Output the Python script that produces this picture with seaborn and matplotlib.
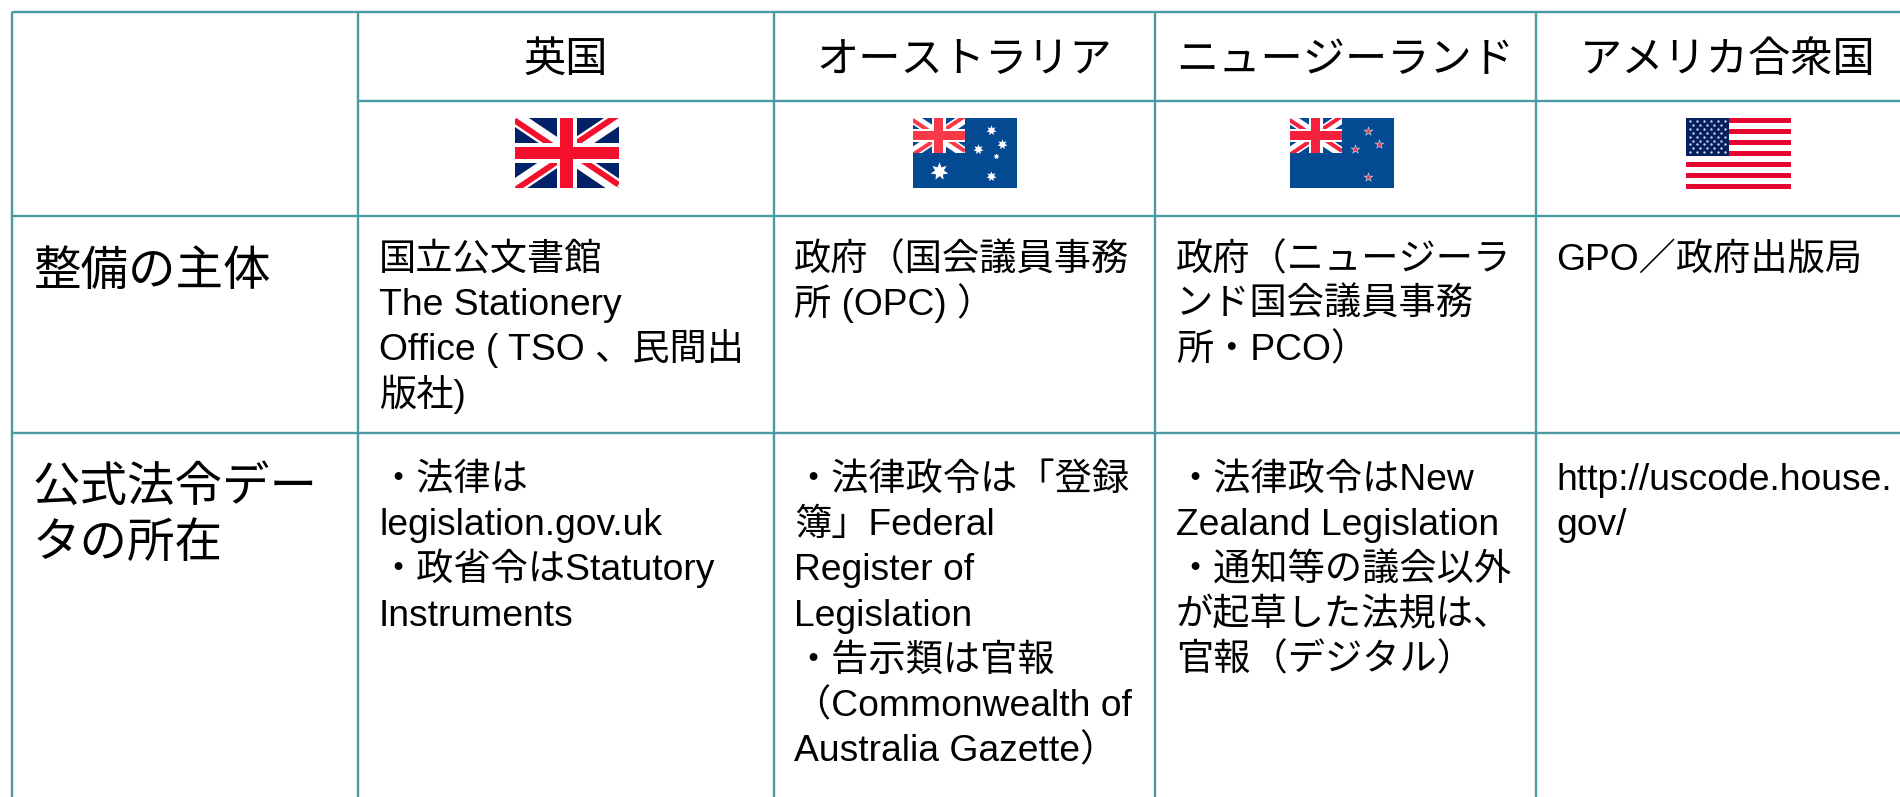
import matplotlib
matplotlib.use("Agg")
import matplotlib.pyplot as plt
from matplotlib.patches import Rectangle
import seaborn as sns

sns.set_theme(style="white")
FONT = ["Liberation Sans", "Noto Sans CJK JP", "DejaVu Sans"]
plt.rcParams["font.family"] = FONT

# ---- content ----
columns = ["英国", "オーストラリア", "ニュージーランド", "アメリカ合衆国"]
row_labels = [["整備の主体"], ["公式法令デー", "タの所在"]]
row1_cells = [
    ["国立公文書館", "The Stationery", "Office ( TSO 、民間出", "版社)"],
    ["政府（国会議員事務", "所 (OPC) ）"],
    ["政府（ニュージーラ", "ンド国会議員事務", "所・PCO）"],
    ["GPO／政府出版局"],
]
row2_cells = [
    ["・法律は", "legislation.gov.uk", "・政省令はStatutory", "Instruments"],
    ["・法律政令は「登録", "簿」Federal", "Register of", "Legislation", "・告示類は官報",
     "（Commonwealth of", "Australia Gazette）"],
    ["・法律政令はNew", "Zealand Legislation", "・通知等の議会以外", "が起草した法規は、", "官報（デジタル）"],
    ["http://uscode.house.", "gov/"],
]

# ---- layout (pixels of the 1900x797 canvas) ----
W, H = 1900, 797
col_edges = [11.5, 358, 774, 1155, 1536]
row_edges = [11.5, 101, 215.5, 432.5]
col_text_x = [379, 794, 1176, 1556]
col_centers = [566, 964.5, 1345.5, 1728]
LINE = "#4a9aa3"
LH = 45.2
BODY, HEAD, LABEL = 26.8, 30.4, 34.2

fig = plt.figure(figsize=(W / 100, H / 100), dpi=100, facecolor="white")
ax = fig.add_axes([0, 0, 1, 1])
ax.set_xlim(0, W)
ax.set_ylim(H, 0)
ax.axis("off")
sns.despine(ax=ax, left=True, bottom=True)

# grid
ax.hlines([row_edges[0], row_edges[2], row_edges[3]], col_edges[0], W, color=LINE, lw=1.7)
ax.hlines(row_edges[1], col_edges[1], W, color=LINE, lw=1.7)
ax.vlines(col_edges, row_edges[0], H, color=LINE, lw=1.7)

# text
for cx, name in zip(col_centers, columns):
    ax.text(cx, 72, name, ha="center", va="baseline", fontsize=HEAD, color="black", family=FONT)
for lines, y0 in zip(row_labels, [285, 501]):
    for i, s in enumerate(lines):
        ax.text(33, y0 + i * 56, s, fontsize=LABEL, va="baseline", color="black", family=FONT)
for cells, y0 in zip([row1_cells, row2_cells], [270, 490]):
    for x, lines in zip(col_text_x, cells):
        for i, s in enumerate(lines):
            ax.text(x, y0 + i * LH, s, fontsize=BODY, va="baseline", color="black", family=FONT)


def union_jack(x0, y0, w, h, blue, red, cross=1.0, zorder=3):
    clip = Rectangle((x0, y0), w, h, transform=ax.transData)
    ax.add_patch(Rectangle((x0, y0), w, h, fc=blue, ec="none", zorder=zorder))
    k = w / 104 * cross
    for a, b in [((x0, y0), (x0 + w, y0 + h)), ((x0, y0 + h), (x0 + w, y0))]:
        l, = ax.plot([a[0], b[0]], [a[1], b[1]], color="white", lw=11 * k, solid_capstyle="butt", zorder=zorder + 1)
        l.set_clip_path(clip)
    mx, my = x0 + w / 2, y0 + h / 2
    off = 2.8 * k
    segs = [((x0, y0 + off), (mx, my + off)), ((mx, my + off), (x0, y0 + h + off)),
            ((x0 + w, y0 - off), (mx, my - off)), ((mx, my - off), (x0 + w, y0 + h - off))]
    for a, b in segs:
        l, = ax.plot([a[0], b[0]], [a[1], b[1]], color=red, lw=4.2 * k, solid_capstyle="butt", zorder=zorder + 2)
        l.set_clip_path(clip)
    ax.add_patch(Rectangle((mx - 10 * k, y0), 20 * k, h, fc="white", ec="none", zorder=zorder + 3))
    ax.add_patch(Rectangle((x0, my - 10 * k), w, 20 * k, fc="white", ec="none", zorder=zorder + 3))
    ax.add_patch(Rectangle((mx - 6.3 * k, y0), 12.6 * k, h, fc=red, ec="none", zorder=zorder + 4))
    ax.add_patch(Rectangle((x0, my - 6 * k), w, 12 * k, fc=red, ec="none", zorder=zorder + 4))


# UK
union_jack(514.5, 117.5, 104, 70, "#012169", "#f4102c")

# fractional star positions inside each flag
au_stars = [(0.754, 0.17, 55), (0.864, 0.375, 55), (0.625, 0.44, 55), (0.80, 0.545, 20), (0.754, 0.83, 55)]
au_big = (0.25, 0.75, 170)
nz_stars = [(0.75, 0.18), (0.86, 0.375), (0.625, 0.44), (0.75, 0.84)]

# Australia
x0, y0, w, h = 912.5, 118, 104, 70
ax.add_patch(Rectangle((x0, y0), w, h, fc="#034a93", ec="none", zorder=3))
union_jack(x0, y0, w / 2 + 0.5, h / 2, "#034a93", "#f83a48", cross=1.35, zorder=4)
for fx, fy, s in au_stars + [au_big]:
    ax.scatter(x0 + fx * w, y0 + fy * h, s=s, marker=(7, 1, 0), color="white", lw=0, zorder=10)

# New Zealand
x0, y0, w, h = 1289.5, 118, 104, 70
ax.add_patch(Rectangle((x0, y0), w, h, fc="#034a93", ec="none", zorder=3))
union_jack(x0, y0, w / 2 + 0.5, h / 2, "#034a93", "#f4203c", cross=1.35, zorder=4)
for fx, fy in nz_stars:
    ax.scatter(x0 + fx * w, y0 + fy * h, s=60, marker="*", color="#cfd8e6", lw=0, zorder=10)
    ax.scatter(x0 + fx * w, y0 + fy * h, s=24, marker="*", color="#e8344e", lw=0, zorder=11)

# USA
x0, y0, w, h = 1686, 117.5, 105, 71.5
sh = h / 13
for i in range(13):
    ax.add_patch(Rectangle((x0, y0 + i * sh), w, sh, fc="#e40530" if i % 2 == 0 else "white", ec="none", zorder=3))
cw, ch = 0.405 * w, 7 * sh
ax.add_patch(Rectangle((x0, y0), cw, ch, fc="#04205e", ec="none", zorder=4))
for r in range(9):
    n = 6 if r % 2 == 0 else 5
    for c in range(n):
        sx = x0 + cw * ((c + (0.5 if r % 2 == 0 else 1.0)) / 6)
        sy = y0 + ch * ((r + 1) / 10)
        ax.scatter(sx, sy, s=3, marker="o", color="#cfd6e6", lw=0, zorder=5)

ax.set_xlim(0, W)
ax.set_ylim(H, 0)
fig.savefig("out.png", dpi=100, facecolor="white")
